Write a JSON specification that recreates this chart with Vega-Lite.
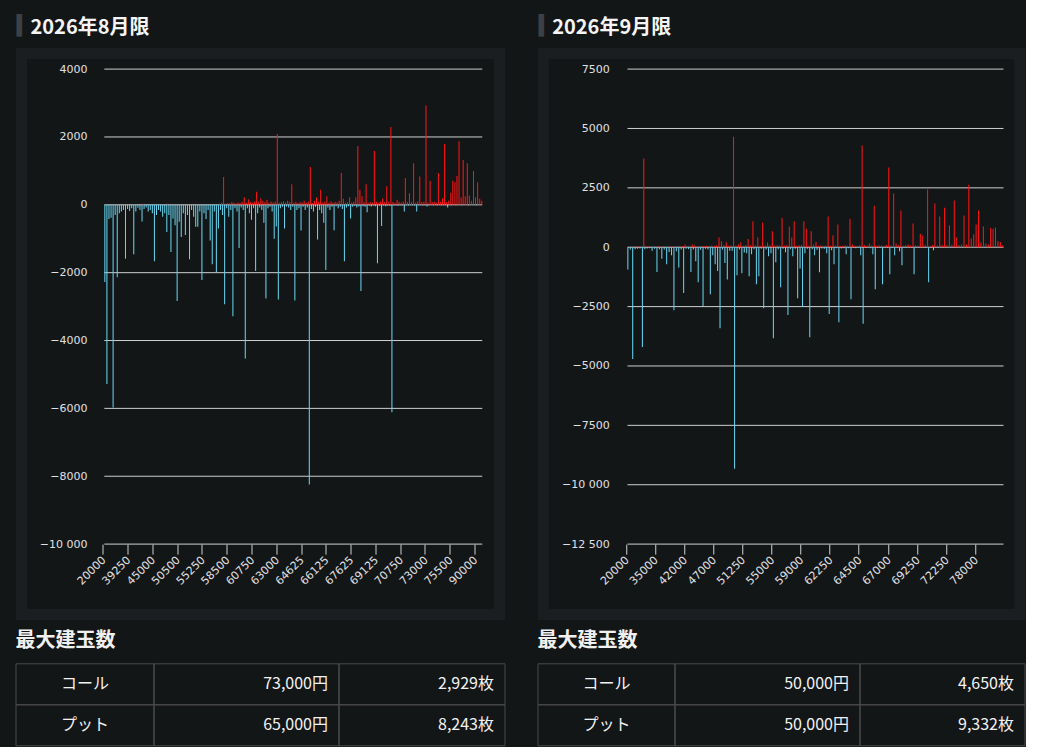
{
  "$schema": "https://vega.github.io/schema/vega-lite/v6.json",
  "background": "#131617",
  "padding": {"left": 10.5, "top": 10.5, "right": 0, "bottom": 0},
  "config": {"view": {"stroke": null}},
  "datasets": {
    "aug": [
      {"s":20000,"c":0,"p":-2273},{"s":25000,"c":0,"p":-5283},{"s":28000,"c":0,"p":-420},{"s":30000,"c":0,"p":-380},
      {"s":32000,"c":0,"p":-5977},{"s":33000,"c":0,"p":-300},{"s":34000,"c":0,"p":-2137},{"s":35000,"c":0,"p":-250},
      {"s":36000,"c":0,"p":-200},{"s":37000,"c":0,"p":-150},{"s":38000,"c":0,"p":-1588},{"s":39000,"c":0,"p":-120},
      {"s":39250,"c":0,"p":-180},{"s":39500,"c":0,"p":-100},{"s":40000,"c":0,"p":-1460},{"s":40500,"c":0,"p":-200},
      {"s":41000,"c":0,"p":-90},{"s":41500,"c":0,"p":-150},{"s":42000,"c":0,"p":-490},{"s":42500,"c":30,"p":-120},
      {"s":43000,"c":0,"p":-80},{"s":43500,"c":0,"p":-200},{"s":44000,"c":0,"p":-150},{"s":44500,"c":0,"p":-250},
      {"s":45000,"c":0,"p":-1666},{"s":45500,"c":0,"p":-300},{"s":46000,"c":0,"p":-150},{"s":46500,"c":0,"p":-200},
      {"s":47000,"c":0,"p":-350},{"s":47500,"c":0,"p":-250},{"s":48000,"c":0,"p":-803},{"s":48500,"c":40,"p":-300},
      {"s":49000,"c":0,"p":-1391},{"s":49500,"c":0,"p":-400},{"s":50000,"c":0,"p":-600},{"s":50250,"c":0,"p":-2832},
      {"s":50500,"c":0,"p":-500},{"s":50750,"c":0,"p":-950},{"s":51000,"c":0,"p":-250},{"s":51500,"c":0,"p":-890},
      {"s":52000,"c":0,"p":-300},{"s":52500,"c":0,"p":-1607},{"s":53000,"c":0,"p":-150},{"s":53500,"c":0,"p":-350},
      {"s":54000,"c":0,"p":-650},{"s":54500,"c":0,"p":-650},{"s":54750,"c":0,"p":-200},{"s":55000,"c":0,"p":-2214},
      {"s":55250,"c":0,"p":-250},{"s":55500,"c":0,"p":-420},{"s":55750,"c":0,"p":-150},{"s":56000,"c":0,"p":-1049},
      {"s":56250,"c":0,"p":-1755},{"s":56500,"c":0,"p":-200},{"s":56750,"c":0,"p":-1980},{"s":57000,"c":0,"p":-700},
      {"s":57500,"c":40,"p":-150},{"s":57750,"c":60,"p":-300},{"s":58000,"c":823,"p":-2930},{"s":58250,"c":30,"p":-100},
      {"s":58500,"c":50,"p":-350},{"s":58750,"c":40,"p":-150},{"s":59000,"c":80,"p":-3283},{"s":59250,"c":60,"p":-100},
      {"s":59500,"c":40,"p":-200},{"s":59750,"c":70,"p":-1274},{"s":60000,"c":50,"p":-80},{"s":60125,"c":90,"p":-150},
      {"s":60250,"c":226,"p":-4528},{"s":60375,"c":60,"p":-100},{"s":60500,"c":165,"p":-250},{"s":60625,"c":80,"p":-440},
      {"s":60750,"c":60,"p":-100},{"s":60875,"c":100,"p":-1950},{"s":61000,"c":382,"p":-250},{"s":61250,"c":90,"p":-80},
      {"s":61500,"c":190,"p":-150},{"s":61750,"c":120,"p":-530},{"s":62000,"c":80,"p":-2764},{"s":62250,"c":150,"p":-100},
      {"s":62500,"c":60,"p":-60},{"s":62625,"c":90,"p":-200},{"s":62750,"c":70,"p":-1000},{"s":62875,"c":100,"p":-640},
      {"s":63000,"c":2087,"p":-2793},{"s":63125,"c":60,"p":-100},{"s":63250,"c":80,"p":-60},{"s":63375,"c":100,"p":-700},
      {"s":63500,"c":70,"p":-50},{"s":63625,"c":120,"p":-80},{"s":63750,"c":80,"p":-150},{"s":63875,"c":608,"p":-60},
      {"s":64000,"c":60,"p":-2822},{"s":64250,"c":90,"p":-150},{"s":64375,"c":50,"p":-100},{"s":64500,"c":80,"p":-755},
      {"s":64625,"c":70,"p":-60},{"s":64750,"c":118,"p":-150},{"s":64875,"c":60,"p":-80},{"s":65000,"c":100,"p":-8243},
      {"s":65125,"c":1117,"p":-120},{"s":65250,"c":50,"p":-200},{"s":65375,"c":118,"p":-60},{"s":65500,"c":225,"p":-1020},
      {"s":65625,"c":90,"p":-150},{"s":65750,"c":441,"p":-250},{"s":65875,"c":70,"p":-530},{"s":66000,"c":90,"p":-1921},
      {"s":66125,"c":255,"p":-80},{"s":66250,"c":60,"p":-150},{"s":66375,"c":100,"p":-60},{"s":66500,"c":60,"p":-750},
      {"s":66625,"c":80,"p":-40},{"s":66750,"c":70,"p":-100},{"s":66875,"c":120,"p":-60},{"s":67000,"c":941,"p":-120},
      {"s":67125,"c":176,"p":-1666},{"s":67250,"c":60,"p":-80},{"s":67375,"c":80,"p":-40},{"s":67500,"c":225,"p":-402},
      {"s":67625,"c":70,"p":-60},{"s":67750,"c":90,"p":-30},{"s":67875,"c":216,"p":-80},{"s":68000,"c":1735,"p":-50},
      {"s":68125,"c":441,"p":-2538},{"s":68250,"c":255,"p":-40},{"s":68375,"c":80,"p":-60},{"s":68500,"c":608,"p":-220},
      {"s":68625,"c":60,"p":-30},{"s":68750,"c":80,"p":-50},{"s":68875,"c":70,"p":-20},{"s":69000,"c":1588,"p":-40},
      {"s":69125,"c":90,"p":-1725},{"s":69250,"c":60,"p":-30},{"s":69375,"c":100,"p":-627},{"s":69500,"c":186,"p":-20},
      {"s":69625,"c":80,"p":-40},{"s":69750,"c":549,"p":-20},{"s":69875,"c":100,"p":-30},{"s":70000,"c":2293,"p":-6115},
      {"s":70250,"c":80,"p":-20},{"s":70375,"c":60,"p":-10},{"s":70500,"c":147,"p":-30},{"s":70625,"c":90,"p":-10},
      {"s":70750,"c":70,"p":-20},{"s":70875,"c":100,"p":-196},{"s":71000,"c":794,"p":-10},{"s":71250,"c":80,"p":-20},
      {"s":71500,"c":343,"p":-10},{"s":71750,"c":90,"p":-10},{"s":72000,"c":1225,"p":-20},{"s":72250,"c":70,"p":-200},
      {"s":72500,"c":100,"p":-10},{"s":72625,"c":833,"p":-10},{"s":72750,"c":80,"p":-20},{"s":72875,"c":90,"p":-10},
      {"s":73000,"c":2929,"p":-50},{"s":73250,"c":60,"p":-10},{"s":73500,"c":706,"p":0},{"s":73750,"c":80,"p":-10},
      {"s":74000,"c":100,"p":0},{"s":74250,"c":70,"p":-10},{"s":74500,"c":941,"p":0},{"s":74750,"c":90,"p":-10},
      {"s":75000,"c":186,"p":0},{"s":75125,"c":1793,"p":-10},{"s":75250,"c":80,"p":-80},{"s":75375,"c":120,"p":0},
      {"s":75500,"c":353,"p":-10},{"s":75750,"c":706,"p":0},{"s":76000,"c":666,"p":-10},{"s":76500,"c":853,"p":0},
      {"s":77000,"c":1872,"p":0},{"s":77500,"c":216,"p":-10},{"s":78000,"c":1323,"p":0},{"s":79000,"c":255,"p":0},
      {"s":80000,"c":1225,"p":-10},{"s":82000,"c":274,"p":0},{"s":85000,"c":118,"p":0},{"s":87500,"c":1000,"p":0},
      {"s":90000,"c":225,"p":-10},{"s":92500,"c":666,"p":0},{"s":95000,"c":176,"p":0},{"s":100000,"c":118,"p":0}
    ],
    "sep": [
      {"s":20000,"c":0,"p":-940},{"s":22000,"c":20,"p":-100},{"s":24000,"c":0,"p":-4705},{"s":25000,"c":30,"p":-80},
      {"s":26000,"c":0,"p":-60},{"s":27000,"c":40,"p":-50},{"s":28000,"c":0,"p":-4199},{"s":29000,"c":3740,"p":-80},
      {"s":30000,"c":0,"p":-50},{"s":31000,"c":30,"p":-40},{"s":32000,"c":0,"p":-150},{"s":34000,"c":20,"p":-60},
      {"s":35000,"c":0,"p":-1040},{"s":35500,"c":40,"p":-80},{"s":36000,"c":0,"p":-490},{"s":36500,"c":30,"p":-100},
      {"s":37000,"c":0,"p":-715},{"s":37500,"c":20,"p":-200},{"s":38000,"c":0,"p":-340},{"s":39000,"c":30,"p":-2656},
      {"s":40000,"c":0,"p":-170},{"s":40500,"c":40,"p":-856},{"s":41000,"c":0,"p":-100},{"s":41500,"c":50,"p":-1924},
      {"s":42000,"c":114,"p":-60},{"s":42500,"c":40,"p":-80},{"s":43000,"c":30,"p":-1040},{"s":43500,"c":114,"p":-100},
      {"s":44000,"c":70,"p":-590},{"s":44500,"c":30,"p":-1475},{"s":45000,"c":40,"p":-110},{"s":45500,"c":50,"p":-2472},
      {"s":46000,"c":40,"p":-60},{"s":46250,"c":60,"p":-100},{"s":46500,"c":50,"p":-1980},{"s":46750,"c":70,"p":-340},
      {"s":47000,"c":60,"p":-715},{"s":47500,"c":80,"p":-997},{"s":48000,"c":410,"p":-3413},{"s":48500,"c":255,"p":-100},
      {"s":49000,"c":90,"p":-660},{"s":49250,"c":210,"p":-1362},{"s":49500,"c":60,"p":-150},{"s":49750,"c":80,"p":-150},
      {"s":50000,"c":4650,"p":-9332},{"s":50250,"c":70,"p":-1180},{"s":50500,"c":114,"p":-100},{"s":51000,"c":210,"p":-1100},
      {"s":51250,"c":60,"p":-220},{"s":51500,"c":90,"p":-250},{"s":51750,"c":350,"p":-1223},{"s":52000,"c":70,"p":-300},
      {"s":52250,"c":1096,"p":-80},{"s":52500,"c":80,"p":-1560},{"s":53000,"c":410,"p":-1223},{"s":53500,"c":60,"p":-60},
      {"s":54000,"c":1040,"p":-2572},{"s":54250,"c":70,"p":-100},{"s":54500,"c":200,"p":-380},{"s":54750,"c":90,"p":-250},
      {"s":55000,"c":675,"p":-3836},{"s":55250,"c":60,"p":-630},{"s":55500,"c":80,"p":-80},{"s":56000,"c":70,"p":-1686},
      {"s":56500,"c":1237,"p":-60},{"s":57000,"c":70,"p":-210},{"s":57250,"c":90,"p":-2852},{"s":57500,"c":872,"p":-80},
      {"s":58000,"c":410,"p":-380},{"s":58250,"c":1096,"p":-60},{"s":58500,"c":60,"p":-2150},{"s":58750,"c":80,"p":-900},
      {"s":59000,"c":90,"p":-2515},{"s":59250,"c":1096,"p":-250},{"s":59500,"c":788,"p":-60},{"s":59750,"c":60,"p":-3794},
      {"s":60000,"c":675,"p":-80},{"s":60250,"c":114,"p":-340},{"s":60500,"c":225,"p":-110},{"s":60750,"c":60,"p":-1054},
      {"s":61000,"c":80,"p":-50},{"s":61500,"c":50,"p":-60},{"s":61750,"c":70,"p":-250},{"s":62000,"c":1294,"p":-2809},
      {"s":62250,"c":60,"p":-130},{"s":62500,"c":506,"p":-715},{"s":62625,"c":70,"p":-40},{"s":62750,"c":957,"p":-3162},
      {"s":63000,"c":50,"p":-50},{"s":63250,"c":60,"p":-40},{"s":63500,"c":80,"p":-300},{"s":63750,"c":60,"p":-40},
      {"s":64000,"c":1197,"p":-2192},{"s":64125,"c":114,"p":-30},{"s":64250,"c":60,"p":-40},{"s":64375,"c":50,"p":-20},
      {"s":64500,"c":80,"p":-340},{"s":64750,"c":4288,"p":-3217},{"s":65000,"c":90,"p":-30},{"s":65250,"c":60,"p":-20},
      {"s":65500,"c":155,"p":-40},{"s":65750,"c":70,"p":-300},{"s":66000,"c":1745,"p":-1771},{"s":66250,"c":60,"p":-20},
      {"s":66500,"c":80,"p":-30},{"s":66625,"c":70,"p":-1560},{"s":66750,"c":60,"p":-20},{"s":66875,"c":90,"p":-30},
      {"s":67000,"c":3360,"p":-1138},{"s":67125,"c":70,"p":-20},{"s":67250,"c":2264,"p":-340},{"s":67500,"c":155,"p":-20},
      {"s":67750,"c":80,"p":-170},{"s":68000,"c":1547,"p":-759},{"s":68250,"c":60,"p":-20},{"s":68500,"c":90,"p":-10},
      {"s":68750,"c":114,"p":-20},{"s":68875,"c":70,"p":-10},{"s":69000,"c":999,"p":-1138},{"s":69125,"c":80,"p":-10},
      {"s":69250,"c":60,"p":-20},{"s":69500,"c":565,"p":-10},{"s":69750,"c":492,"p":-10},{"s":70000,"c":90,"p":-20},
      {"s":70250,"c":2433,"p":-1475},{"s":70500,"c":40,"p":-10},{"s":70750,"c":80,"p":-130},{"s":71000,"c":1842,"p":0},
      {"s":71250,"c":70,"p":-10},{"s":71500,"c":1294,"p":0},{"s":71750,"c":90,"p":0},{"s":72000,"c":1659,"p":-10},
      {"s":72250,"c":80,"p":0},{"s":72500,"c":914,"p":0},{"s":72750,"c":100,"p":-10},{"s":73000,"c":1969,"p":0},
      {"s":73500,"c":410,"p":0},{"s":74000,"c":90,"p":0},{"s":74500,"c":120,"p":-10},{"s":75000,"c":1336,"p":0},
      {"s":75500,"c":114,"p":0},{"s":76000,"c":2630,"p":0},{"s":76500,"c":365,"p":0},{"s":77000,"c":548,"p":0},
      {"s":78000,"c":957,"p":0},{"s":78500,"c":1547,"p":0},{"s":79000,"c":200,"p":0},{"s":79500,"c":872,"p":0},
      {"s":80000,"c":155,"p":0},{"s":81000,"c":120,"p":0},{"s":82000,"c":815,"p":0},{"s":83000,"c":773,"p":0},
      {"s":84000,"c":830,"p":0},{"s":85000,"c":267,"p":0},{"s":87500,"c":225,"p":0},{"s":90000,"c":85,"p":0}
    ],
    "grid8": [
      {"v":4000,"s":20000,"b":100000},{"v":2000,"s":20000,"b":100000},{"v":0,"s":20000,"b":100000},
      {"v":-2000,"s":20000,"b":100000},{"v":-4000,"s":20000,"b":100000},{"v":-6000,"s":20000,"b":100000},
      {"v":-8000,"s":20000,"b":100000},{"v":-10000,"s":20000,"b":100000}
    ],
    "grid9": [
      {"v":7500,"s":20000,"b":90000},{"v":5000,"s":20000,"b":90000},{"v":2500,"s":20000,"b":90000},
      {"v":0,"s":20000,"b":90000},{"v":-2500,"s":20000,"b":90000},{"v":-5000,"s":20000,"b":90000},
      {"v":-7500,"s":20000,"b":90000},{"v":-10000,"s":20000,"b":90000},{"v":-12500,"s":20000,"b":90000}
    ],
    "tab8": [
      {"r":0,"c0":0,"c1":1,"t":"コール"},{"r":0,"c0":1,"c1":2,"t":"73,000円"},{"r":0,"c0":2,"c1":3,"t":"2,929枚"},
      {"r":1,"c0":0,"c1":1,"t":"プット"},{"r":1,"c0":1,"c1":2,"t":"65,000円"},{"r":1,"c0":2,"c1":3,"t":"8,243枚"}
    ],
    "tab9": [
      {"r":0,"c0":0,"c1":1,"t":"コール"},{"r":0,"c0":1,"c1":2,"t":"50,000円"},{"r":0,"c0":2,"c1":3,"t":"4,650枚"},
      {"r":1,"c0":0,"c1":1,"t":"プット"},{"r":1,"c0":1,"c1":2,"t":"50,000円"},{"r":1,"c0":2,"c1":3,"t":"9,332枚"}
    ]
  },
  "columns": 2,
  "spacing": {"row": 49.3, "column": 43.75},
  "bounds": "flush",
  "align": "each",
  "center": false,
  "concat": [
    {
      "width": 478,
      "height": 561,
      "view": {"stroke": "#1b1e21", "strokeWidth": 11},
      "encoding": {
        "x": {
          "field": "s", "type": "ordinal",
          "scale": {"type": "band", "paddingInner": 0, "paddingOuter": 0, "range": [81.8, 461.8]},
          "axis": {
            "values": [20000, 39250, 45000, 50500, 55250, 58500, 60750, 63000, 64625, 66125, 67625, 69125, 70750, 73000, 75500, 90000],
            "offset": -70.4, "bandPosition": 0, "domain": false, "grid": false,
            "tickSize": 10, "tickColor": "#d0d0d0", "labelOverlap": false,
            "labelAngle": -45, "labelAlign": "right", "labelBaseline": "middle", "labelPadding": 4,
            "labelColor": "#e0e0e3", "labelFont": "DejaVu Sans", "labelFontSize": 11,
            "title": "▍", "titleColor": "#3d4044", "titleFont": "DejaVu Sans", "titleFontSize": 19,
            "titleAngle": 0, "titleAlign": "left", "titleBaseline": "middle", "titleX": -5.5, "titleY": -518.3
          }
        },
        "y": {
          "field": "v", "type": "quantitative",
          "scale": {"domain": [-12075, 4460], "nice": false, "zero": false},
          "axis": {
            "values": [4000, 2000, 0, -2000, -4000, -6000, -8000, -10000],
            "offset": -82.5, "grid": false, "domain": false, "ticks": false, "labelPadding": 17,
            "labelFlush": false, "labelOverlap": false,
            "labelColor": "#e0e0e3", "labelFont": "DejaVu Sans", "labelFontSize": 11,
            "labelExpr": "abs(datum.value) >= 10000 ? replace(format(datum.value, ','), ',', ' ') : format(datum.value, 'd')",
            "title": "2026年8月限", "titleColor": "#f4f4f4", "titleFont": "Noto Sans CJK JP", "titleFontSize": 20,
            "titleFontWeight": "bold", "titleAngle": 0, "titleAlign": "left", "titleBaseline": "alphabetic",
            "titleX": -74, "titleY": -19.7
          }
        }
      },
      "layer": [
        {
          "data": {"name": "grid8"},
          "mark": {"type": "rule", "color": "#cfcfcf", "strokeWidth": 1},
          "encoding": {"x2": {"field": "b"}}
        },
        {
          "data": {"name": "aug"},
          "transform": [{"fold": ["c", "p"], "as": ["k", "v"]}],
          "mark": {"type": "bar"},
          "encoding": {
            "xOffset": {"field": "k", "type": "nominal", "scale": {"paddingInner": 0, "paddingOuter": 0}},
            "color": {"field": "k", "type": "nominal", "scale": {"domain": ["c", "p"], "range": ["#ff1414", "#66d3ee"]}, "legend": null}
          }
        }
      ]
    },
    {
      "width": 476.5,
      "height": 561,
      "view": {"stroke": "#1b1e21", "strokeWidth": 11},
      "encoding": {
        "x": {
          "field": "s", "type": "ordinal",
          "scale": {"type": "band", "paddingInner": 0, "paddingOuter": 0, "range": [83.05, 461.45]},
          "axis": {
            "values": [20000, 35000, 42000, 47000, 51250, 55000, 59000, 62250, 64500, 67000, 69250, 72250, 78000],
            "offset": -70.4, "bandPosition": 0, "domain": false, "grid": false,
            "tickSize": 10, "tickColor": "#d0d0d0", "labelOverlap": false,
            "labelAngle": -45, "labelAlign": "right", "labelBaseline": "middle", "labelPadding": 4,
            "labelColor": "#e0e0e3", "labelFont": "DejaVu Sans", "labelFontSize": 11,
            "title": "▍", "titleColor": "#3d4044", "titleFont": "DejaVu Sans", "titleFontSize": 19,
            "titleAngle": 0, "titleAlign": "left", "titleBaseline": "middle", "titleX": -5.25, "titleY": -518.3
          }
        },
        "y": {
          "field": "v", "type": "quantitative",
          "scale": {"domain": [-15464, 8157], "nice": false, "zero": false},
          "axis": {
            "values": [7500, 5000, 2500, 0, -2500, -5000, -7500, -10000, -12500],
            "offset": -83.05, "grid": false, "domain": false, "ticks": false, "labelPadding": 17,
            "labelFlush": false, "labelOverlap": false,
            "labelColor": "#e0e0e3", "labelFont": "DejaVu Sans", "labelFontSize": 11,
            "labelExpr": "abs(datum.value) >= 10000 ? replace(format(datum.value, ','), ',', ' ') : format(datum.value, 'd')",
            "title": "2026年9月限", "titleColor": "#f4f4f4", "titleFont": "Noto Sans CJK JP", "titleFontSize": 20,
            "titleFontWeight": "bold", "titleAngle": 0, "titleAlign": "left", "titleBaseline": "alphabetic",
            "titleX": -74.6, "titleY": -19.7
          }
        }
      },
      "layer": [
        {
          "data": {"name": "grid9"},
          "mark": {"type": "rule", "color": "#cfcfcf", "strokeWidth": 1},
          "encoding": {"x2": {"field": "b"}}
        },
        {
          "data": {"name": "sep"},
          "transform": [{"fold": ["c", "p"], "as": ["k", "v"]}],
          "mark": {"type": "bar"},
          "encoding": {
            "xOffset": {"field": "k", "type": "nominal", "scale": {"paddingInner": 0, "paddingOuter": 0}},
            "color": {"field": "k", "type": "nominal", "scale": {"domain": ["c", "p"], "range": ["#ff1414", "#66d3ee"]}, "legend": null}
          }
        }
      ]
    },
    {
      "width": 478,
      "height": 82,
      "data": {"name": "tab8"},
      "title": {"text": "最大建玉数", "anchor": "start", "offset": -4, "baseline": "alphabetic", "font": "Noto Sans CJK JP", "fontSize": 20, "fontWeight": "bold", "color": "#f0f0f0"},
      "encoding": {"y": {"field": "r", "type": "ordinal", "axis": null, "scale": {"paddingInner": 0, "paddingOuter": 0}}},
      "layer": [
        {
          "mark": {"type": "rect", "filled": false, "color": "#4a4a4a", "strokeWidth": 1},
          "encoding": {
            "x": {"field": "c0", "type": "quantitative", "axis": null, "scale": {"domain": [0, 1, 2, 3], "range": [-5.5, 132.5, 317.5, 483.5], "nice": false, "zero": false}},
            "x2": {"field": "c1"}
          }
        },
        {
          "transform": [{"filter": "datum.c0 == 0"}],
          "mark": {"type": "text", "align": "center", "dx": 69, "font": "Noto Sans CJK JP", "fontSize": 16, "color": "#f2f2f2"},
          "encoding": {"x": {"field": "c0", "type": "quantitative"}, "text": {"field": "t"}}
        },
        {
          "transform": [{"filter": "datum.c0 > 0"}],
          "mark": {"type": "text", "align": "right", "dx": -11, "font": "Noto Sans CJK JP", "fontSize": 16, "color": "#f2f2f2"},
          "encoding": {"x": {"field": "c1", "type": "quantitative"}, "text": {"field": "t"}}
        }
      ]
    },
    {
      "width": 476.5,
      "height": 82,
      "data": {"name": "tab9"},
      "title": {"text": "最大建玉数", "anchor": "start", "offset": -4, "baseline": "alphabetic", "font": "Noto Sans CJK JP", "fontSize": 20, "fontWeight": "bold", "color": "#f0f0f0"},
      "encoding": {"y": {"field": "r", "type": "ordinal", "axis": null, "scale": {"paddingInner": 0, "paddingOuter": 0}}},
      "layer": [
        {
          "mark": {"type": "rect", "filled": false, "color": "#4a4a4a", "strokeWidth": 1},
          "encoding": {
            "x": {"field": "c0", "type": "quantitative", "axis": null, "scale": {"domain": [0, 1, 2, 3], "range": [-5.25, 131.75, 316.75, 481.75], "nice": false, "zero": false}},
            "x2": {"field": "c1"}
          }
        },
        {
          "transform": [{"filter": "datum.c0 == 0"}],
          "mark": {"type": "text", "align": "center", "dx": 68.5, "font": "Noto Sans CJK JP", "fontSize": 16, "color": "#f2f2f2"},
          "encoding": {"x": {"field": "c0", "type": "quantitative"}, "text": {"field": "t"}}
        },
        {
          "transform": [{"filter": "datum.c0 > 0"}],
          "mark": {"type": "text", "align": "right", "dx": -11, "font": "Noto Sans CJK JP", "fontSize": 16, "color": "#f2f2f2"},
          "encoding": {"x": {"field": "c1", "type": "quantitative"}, "text": {"field": "t"}}
        }
      ]
    }
  ]
}
